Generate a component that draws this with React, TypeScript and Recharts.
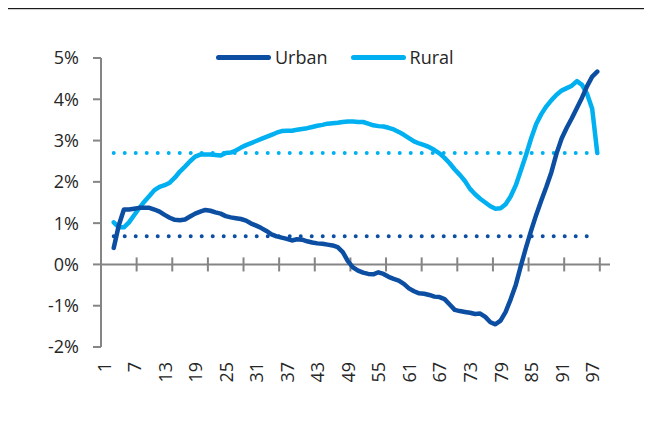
import { LineChart, Line, XAxis, YAxis, ReferenceLine, Legend } from 'recharts'

// category index along the x axis (data starts at 3)
const periods = [
  3, 4, 5, 6, 7, 8, 9, 10, 11, 12, 13, 14, 15, 16, 17, 18, 19, 20, 21, 22, 23, 24, 25, 26,
  27, 28, 29, 30, 31, 32, 33, 34, 35, 36, 37, 38, 39, 40, 41, 42, 43, 44, 45, 46, 47, 48, 49, 50,
  51, 52, 53, 54, 55, 56, 57, 58, 59, 60, 61, 62, 63, 64, 65, 66, 67, 68, 69, 70, 71, 72, 73, 74,
  75, 76, 77, 78, 79, 80, 81, 82, 83, 84, 85, 86, 87, 88, 89, 90, 91, 92, 93, 94, 95, 96, 97, 98,
]

const urban = [
  0.4, 0.95, 1.33, 1.33, 1.35, 1.37, 1.37, 1.37, 1.33, 1.28, 1.2, 1.13, 1.08, 1.07, 1.09, 1.16,
  1.23, 1.28, 1.32, 1.3, 1.26, 1.23, 1.17, 1.14, 1.12, 1.1, 1.06, 0.99, 0.94, 0.88, 0.81, 0.73,
  0.68, 0.65, 0.62, 0.58, 0.61, 0.6, 0.56, 0.53, 0.51, 0.5, 0.48, 0.46, 0.42, 0.3, 0.08, -0.07,
  -0.15, -0.2, -0.23, -0.24, -0.19, -0.23, -0.3, -0.35, -0.39, -0.47, -0.58, -0.65, -0.7, -0.71,
  -0.74, -0.78, -0.79, -0.84, -0.97, -1.1, -1.13, -1.15, -1.17, -1.2, -1.19, -1.27, -1.4, -1.45,
  -1.36, -1.15, -0.84, -0.49, -0.03, 0.41, 0.82, 1.2, 1.55, 1.88, 2.24, 2.69, 3.05, 3.31, 3.54,
  3.79, 4.04, 4.32, 4.55, 4.67,
]

const rural = [
  1.02, 0.9, 0.9, 1.02, 1.19, 1.36, 1.52, 1.66, 1.8, 1.88, 1.92, 1.98, 2.1, 2.25, 2.37, 2.5,
  2.61, 2.66, 2.66, 2.66, 2.65, 2.64, 2.7, 2.71, 2.76, 2.83, 2.89, 2.94, 2.99, 3.04, 3.09, 3.14,
  3.19, 3.23, 3.24, 3.24, 3.26, 3.28, 3.3, 3.33, 3.36, 3.38, 3.41, 3.42, 3.43, 3.45, 3.46, 3.46,
  3.45, 3.45, 3.41, 3.37, 3.35, 3.34, 3.31, 3.27, 3.21, 3.14, 3.06, 2.98, 2.93, 2.89, 2.84, 2.77,
  2.69, 2.58, 2.45, 2.3, 2.17, 2.02, 1.83, 1.7, 1.59, 1.5, 1.41, 1.35, 1.36, 1.46, 1.65, 1.92,
  2.28, 2.65, 3.05, 3.4, 3.64, 3.83, 3.98, 4.11, 4.21, 4.27, 4.33, 4.44, 4.35, 4.13, 3.77, 2.7,
]

// long-run averages (dotted)
const URBAN_AVG = 0.68
const RURAL_AVG = 2.7

const xLabels = [1, 7, 13, 19, 25, 31, 37, 43, 49, 55, 61, 67, 73, 79, 85, 91, 97]
const xTickMarks = [7.5, 14.5, 21.5, 28.5, 35.5, 42.5, 49.5, 56.5, 63.5, 70.5, 77.5, 84.5, 91.5, 98.5]
const yTicks = [-2, -1, 0, 1, 2, 3, 4, 5]

const URBAN_COLOR = '#0b4ea2'
const RURAL_COLOR = '#00b0f0'
const AXIS_COLOR = '#858585'
const TEXT_COLOR = '#262626'
const FONT = '"Open Sans", "Noto Sans", sans-serif'

const chartData = periods.map((p, i) => ({ period: p, urban: urban[i], rural: rural[i] }))

function XTick({ x, y, payload }: any) {
  return (
    <text
      x={x}
      y={y}
      transform={`rotate(-90 ${x} ${y})`}
      textAnchor="end"
      dominantBaseline="central"
      fill={TEXT_COLOR}
      fontSize={18}
      fontFamily={FONT}
    >
      {payload.value}
    </text>
  )
}

function LegendContent() {
  const items = [
    { label: 'Urban', color: URBAN_COLOR },
    { label: 'Rural', color: RURAL_COLOR },
  ]
  return (
    <div style={{ display: 'flex', alignItems: 'center', fontFamily: FONT, fontSize: 18, color: TEXT_COLOR }}>
      {items.map((it, i) => (
        <div key={it.label} style={{ display: 'flex', alignItems: 'center', marginLeft: i ? 23 : 0 }}>
          <span style={{ width: 55, height: 5, borderRadius: 3, background: it.color, marginRight: 4 }} />
          <span style={{ lineHeight: '24px' }}>{it.label}</span>
        </div>
      ))}
    </div>
  )
}

export default function App() {
  return (
    <div style={{ position: 'relative', width: 652, height: 422, margin: -8, background: '#fff' }}>
      <div style={{ position: 'absolute', top: 8, left: 0, width: 652, height: 1, background: '#1a1a1a' }} />
      <div style={{ position: 'absolute', top: 9, left: 0, width: 652, height: 1, background: '#cfcfcf' }} />
      <LineChart
        width={652}
        height={422}
        data={chartData}
        margin={{ top: 58, right: 42, left: 10, bottom: 15 }}
      >
        <XAxis
          dataKey="period"
          type="number"
          domain={[0.5, 100.5]}
          ticks={xLabels}
          interval={0}
          axisLine={false}
          tickLine={false}
          tickSize={0}
          tickMargin={15}
          height={60}
          tick={<XTick />}
        />
        <YAxis
          domain={[-2, 5]}
          ticks={yTicks}
          interval={0}
          width={91}
          tickFormatter={(v: number) => `${v}%`}
          axisLine={{ stroke: AXIS_COLOR, strokeWidth: 2 }}
          tickLine={{ stroke: AXIS_COLOR, strokeWidth: 2 }}
          tickSize={8}
          tickMargin={14}
          tick={{ fill: TEXT_COLOR, fontSize: 18, fontFamily: FONT }}
        />
        <ReferenceLine y={0} stroke={AXIS_COLOR} strokeWidth={2} />
        {xTickMarks.map((t) => (
          <ReferenceLine
            key={t}
            segment={[
              { x: t, y: -0.17 },
              { x: t, y: 0.17 },
            ]}
            stroke={AXIS_COLOR}
            strokeWidth={2}
          />
        ))}
        <ReferenceLine
          segment={[
            { x: periods[0], y: URBAN_AVG },
            { x: periods[periods.length - 1], y: URBAN_AVG },
          ]}
          stroke={URBAN_COLOR}
          strokeWidth={4}
          strokeDasharray="0 11"
          strokeLinecap="round"
        />
        <ReferenceLine
          segment={[
            { x: periods[0], y: RURAL_AVG },
            { x: periods[periods.length - 1], y: RURAL_AVG },
          ]}
          stroke={RURAL_COLOR}
          strokeWidth={4}
          strokeDasharray="0 11"
          strokeLinecap="round"
        />
        <Line
          dataKey="rural"
          name="Rural"
          type="linear"
          stroke={RURAL_COLOR}
          strokeWidth={4.5}
          strokeLinejoin="round"
          strokeLinecap="round"
          dot={false}
          activeDot={false}
          isAnimationActive={false}
        />
        <Line
          dataKey="urban"
          name="Urban"
          type="linear"
          stroke={URBAN_COLOR}
          strokeWidth={4.5}
          strokeLinejoin="round"
          strokeLinecap="round"
          dot={false}
          activeDot={false}
          isAnimationActive={false}
        />
        <Legend
          layout="horizontal"
          verticalAlign="middle"
          align="center"
          wrapperStyle={{ top: 45, left: 216, width: 300 }}
          content={() => <LegendContent />}
        />
      </LineChart>
    </div>
  )
}
